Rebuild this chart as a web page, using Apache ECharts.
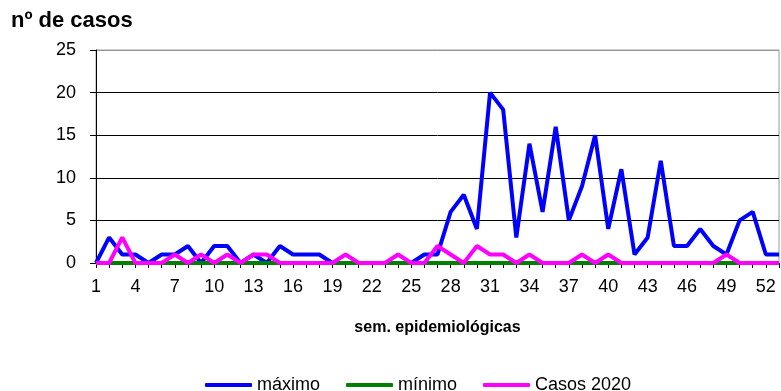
<!DOCTYPE html>
<html>
<head>
<meta charset="utf-8">
<script src="https://cdn.jsdelivr.net/npm/echarts@6/dist/echarts.min.js"></script>
<style>html,body{margin:0;padding:0;background:#fff}#c{width:781px;height:391px}</style>
</head>
<body>
<div id="c"></div>
<script>
var weeks = [];
for (var i = 1; i <= 53; i++) weeks.push(String(i));
var maximo = [0,3,1,1,0,1,1,2,0,2,2,0,1,0,2,1,1,1,0,0,0,0,0,0,0,1,1,6,8,4,20,18,3,14,6,16,5,9,15,4,11,1,3,12,2,2,4,2,1,5,6,1,1];
var minimo = [0,0,0,0,0,0,0,0,0,0,0,0,0,0,0,0,0,0,0,0,0,0,0,0,0,0,0,0,0,0,0,0,0,0,0,0,0,0,0,0,0,0,0,0,0,0,0,0,0,0,0,0,0];
var casos2020 = [0,0,3,0,0,0,1,0,1,0,1,0,1,1,0,0,0,0,0,1,0,0,0,1,0,0,2,1,0,2,1,1,0,1,0,0,0,1,0,1,0,0,0,0,0,0,0,0,1,0,0,0,0];
var seriesNames = ['máximo','mínimo','Casos 2020'];
var colors = ['#0000FF','#008000','#FF00FF'];

var FONT = 'Liberation Sans';
var chart = echarts.init(document.getElementById('c'), null, {renderer:'canvas'});
function mk(name, data, color){
  return {name:name, type:'line', data:data, symbol:'none', animation:false,
    lineStyle:{color:color, width:4}, itemStyle:{color:color}};
}
chart.setOption({
  animation:false,
  textStyle:{fontFamily:FONT},
  title:{text:'nº de casos', left:11, top:10, padding:0,
    textStyle:{fontFamily:FONT, fontWeight:'bold', fontSize:22, color:'#000'}},
  grid:{left:96, right:2, top:50, bottom:128, show:true, borderColor:'#999', borderWidth:1, containLabel:false},
  xAxis:{type:'category', data:weeks, boundaryGap:false,
    name:'sem. epidemiológicas', nameLocation:'middle', nameGap:57,
    nameTextStyle:{fontFamily:FONT, fontWeight:'bold', fontSize:16, color:'#000'},
    axisLine:{lineStyle:{color:'#000', width:1}},
    axisTick:{show:true, interval:0, length:5, lineStyle:{color:'#000'}},
    axisLabel:{interval:2, margin:15, fontSize:18, color:'#000', fontFamily:FONT},
    splitLine:{show:false}},
  yAxis:{type:'value', min:0, max:25, interval:5,
    axisLine:{show:true, lineStyle:{color:'#000', width:1}},
    axisTick:{show:true, length:6, lineStyle:{color:'#000'}},
    axisLabel:{margin:20, fontSize:18, color:'#000', fontFamily:FONT},
    splitLine:{show:true, lineStyle:{color:['#000','#000','#000','#000','#000','#999'], width:1}}},
  legend:{data:seriesNames, top:376, left:205, padding:0, itemGap:26,
    itemWidth:47, itemHeight:4, icon:'roundRect',
    textStyle:{fontFamily:FONT, fontSize:18, color:'#000'}},
  series:[mk(seriesNames[0], maximo, colors[0]), mk(seriesNames[1], minimo, colors[1]), mk(seriesNames[2], casos2020, colors[2])]
});
</script>
</body>
</html>
